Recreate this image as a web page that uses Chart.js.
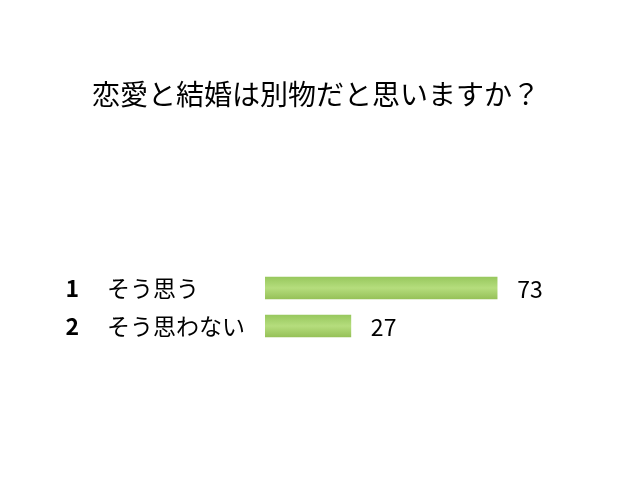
<!DOCTYPE html>
<html>
<head>
<meta charset="utf-8">
<script src="https://cdn.jsdelivr.net/npm/chart.js@4"></script>
<style>
  html, body { margin: 0; padding: 0; background: #fff; }
  #wrap { width: 640px; height: 480px; }
</style>
</head>
<body>
<div id="wrap"><canvas id="myChart" width="640" height="480"></canvas></div>
<script>
const title_text = '恋愛と結婚は別物だと思いますか？';
const numeros = ['1', '2'];
const respuestas = ['そう思う', 'そう思わない'];
const valores = [73, 27];

const fuente = '"Noto Sans CJK JP", "Noto Sans", sans-serif';

// gradiente verde de cada barra
function colorBarra(context) {
    const chart = context.chart;
    const yScale = chart.scales.y;
    if (!yScale || !chart.chartArea) return '#a8d46e';
    const y = yScale.getPixelForValue(context.dataIndex);
    if (!isFinite(y)) return '#a8d46e';
    const g = chart.ctx.createLinearGradient(0, y - 11, 0, y + 11);
    g.addColorStop(0, '#98c85e');
    g.addColorStop(0.5, '#b5dd7d');
    g.addColorStop(1, '#96c158');
    return g;
}

// numeros al final de cada barra
const etiquetasValor = {
    id: 'etiquetasValor',
    afterDatasetsDraw(chart) {
        const ctx = chart.ctx;
        const meta = chart.getDatasetMeta(0);
        ctx.save();
        ctx.font = '23px ' + fuente;
        ctx.fillStyle = '#000';
        ctx.textAlign = 'left';
        ctx.textBaseline = 'middle';
        meta.data.forEach(function(bar, i) {
            ctx.fillText(String(valores[i]), bar.x + 20, bar.y + 1);
        });
        ctx.restore();
    }
};

const canvas = document.getElementById('myChart');
const ctx = canvas.getContext('2d');
const config = {
    type: 'bar',
    data: {
        labels: respuestas,
        datasets: [{
            data: valores,
            backgroundColor: colorBarra,
            borderWidth: 0,
            barThickness: 22
        }]
    },
    options: {
        indexAxis: 'y',
        responsive: false,
        animation: false,
        layout: {
            padding: { left: 49, right: 57, top: 0, bottom: 135 }
        },
        plugins: {
            legend: { display: false },
            tooltip: { enabled: false },
            title: {
                display: true,
                text: title_text,
                color: '#000',
                font: { family: fuente, size: 28, weight: 'normal', lineHeight: 1.2 },
                padding: { top: 78, bottom: 157.4 }
            }
        },
        scales: {
            x: {
                display: false,
                min: 0,
                max: 100
            },
            y: {
                position: 'left',
                weight: 0,
                grid: { display: false },
                border: { display: false },
                afterFit: function(axis) { axis.width = 158; },
                ticks: {
                    crossAlign: 'far',
                    padding: 0,
                    color: '#000',
                    font: { family: fuente, size: 23 }
                }
            },
            yNum: {
                type: 'category',
                labels: numeros,
                position: 'left',
                weight: 1,
                grid: { display: false },
                border: { display: false },
                afterFit: function(axis) { axis.width = 58; },
                ticks: {
                    crossAlign: 'near',
                    padding: 20,
                    color: '#000',
                    font: { family: fuente, size: 23, weight: 'bold' }
                }
            }
        }
    },
    plugins: [etiquetasValor]
};
const myChart = new Chart(ctx, config);
</script>
</body>
</html>
